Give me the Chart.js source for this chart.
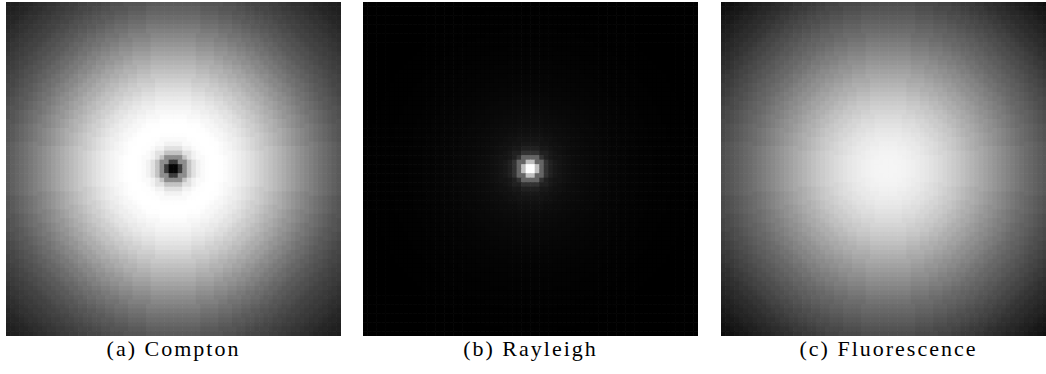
<!DOCTYPE html>
<html>
<head>
<meta charset="utf-8">
<script src="https://cdn.jsdelivr.net/npm/chart.js@4.4.1/dist/chart.umd.min.js"></script>
<style>
body { margin: 0; width: 1046px; height: 374px; overflow: hidden; background: #fff; position: relative; }
.panel { position: absolute; top: 2px; width: 335px; height: 334px; }
.cap { position: absolute; top: 336px; width: 335px; text-align: center; font-family: "Liberation Serif", serif; font-size: 22px; letter-spacing: 2px; color: #000; }
</style>
</head>
<body>
<div class="panel" style="left:6px"><canvas id="compton"></canvas></div>
<div class="panel" style="left:363px"><canvas id="rayleigh"></canvas></div>
<div class="panel" style="left:721px"><canvas id="fluorescence"></canvas></div>
<div class="cap" style="left:6px">(a) Compton</div>
<div class="cap" style="left:363px">(b) Rayleigh</div>
<div class="cap" style="left:721px">(c) Fluorescence</div>
<script>
// 74 x 74 detector pixels; grey level (0-255) read off per ring,
// ring k = cells whose distance from the centre lies in [k, k+1)
const gridSize = 74;
const centreCell = 36.5;

const comptonLevels = [5, 60, 140, 195, 225, 242, 250, 254, 255, 255,
  254, 251, 247, 243, 238, 233, 227, 221, 214, 207,
  200, 193, 186, 179, 172, 164, 157, 149, 142, 135,
  128, 121, 114, 108, 102, 96, 90, 85, 80, 75,
  70, 66, 62, 58, 54, 50, 46, 42, 38, 35,
  32, 29];

const rayleighLevels = [255, 190, 100, 50, 32, 24, 20, 17, 15, 13,
  12, 11, 10, 9, 8, 8, 7, 6, 6, 5,
  5, 4, 4, 4, 3, 3, 3, 2, 2, 2,
  2, 1, 1, 1, 1, 1, 0, 0, 0, 0,
  0, 0, 0, 0, 0, 0, 0, 0, 0, 0,
  0, 0];

const fluorescenceLevels = [245, 245, 244, 243, 241, 239, 236, 233, 230, 226,
  222, 218, 213, 208, 203, 198, 192, 186, 180, 174,
  168, 162, 156, 150, 144, 138, 132, 126, 120, 114,
  108, 103, 98, 93, 88, 83, 78, 73, 68, 63,
  58, 53, 48, 44, 40, 36, 32, 28, 24, 20,
  16, 12];

function cellGrey(levels, col, row) {
    const k = Math.floor(Math.hypot(col - centreCell, row - centreCell));
    const v = levels[Math.min(k, levels.length - 1)];
    return 'rgb(' + v + ',' + v + ',' + v + ')';
}

function makeMap(id, levels) {
    const cols = [];
    for (let c = 0; c < gridSize; c++) cols.push(c);
    const datasets = [];
    for (let r = 0; r < gridSize; r++) {
        datasets.push({
            data: cols.map(() => 1),
            backgroundColor: cols.map(c => cellGrey(levels, c, r)),
            borderWidth: 0,
            barPercentage: 1,
            categoryPercentage: 1
        });
    }
    new Chart(document.getElementById(id).getContext('2d'), {
        type: 'bar',
        data: { labels: cols, datasets: datasets },
        options: {
            responsive: true,
            maintainAspectRatio: false,
            animation: false,
            layout: { padding: 0 },
            plugins: { legend: { display: false }, tooltip: { enabled: false } },
            scales: {
                x: { display: false, stacked: true },
                y: { display: false, stacked: true, min: 0, max: gridSize }
            }
        }
    });
}

makeMap('compton', comptonLevels);
makeMap('rayleigh', rayleighLevels);
makeMap('fluorescence', fluorescenceLevels);
</script>
</body>
</html>
